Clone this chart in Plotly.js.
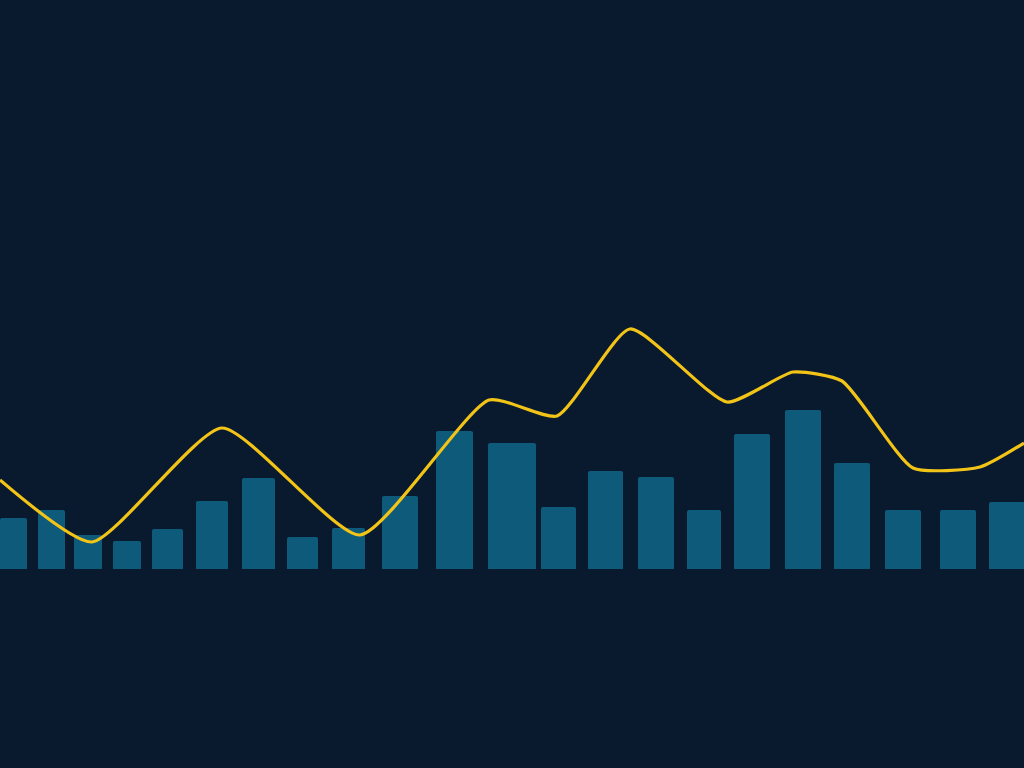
<!DOCTYPE html>
<html>
<head>
<meta charset="utf-8">
<script src="https://cdn.plot.ly/plotly-3.0.1.min.js"></script>
<style>
html,body{margin:0;padding:0;background:#0a1a2e;}
#chart{width:1024px;height:768px;}
</style>
</head>
<body>
<div id="chart"></div>
<script>
// Bar series (period positions and values)
const barX = [1.35, 5.15, 8.8, 12.7, 16.75, 21.2, 25.85, 30.25, 34.85, 40.0, 45.45, 51.2, 55.85, 60.55, 65.6, 70.4, 75.2, 80.3, 85.2, 90.3, 95.8, 100.7];
const barValues = [5.1, 5.9, 3.4, 2.8, 4.0, 6.8, 9.1, 3.2, 4.1, 7.3, 13.8, 12.6, 6.2, 9.8, 9.2, 5.9, 13.5, 15.9, 10.6, 5.9, 5.9, 6.7];
// Line series
const lineX = [0, 9.2, 22.2, 36.0, 48.9, 55.7, 63.0, 72.7, 79.3, 84.2, 91.3, 98.0, 102.4];
const lineValues = [8.9, 2.7, 14.1, 3.4, 16.9, 15.3, 24.0, 16.7, 19.7, 18.8, 10.1, 10.2, 12.6];

const barWidths = [2.7, 2.7, 2.8, 2.8, 3.1, 3.2, 3.3, 3.1, 3.3, 3.6, 3.7, 4.8, 3.5, 3.5, 3.6, 3.4, 3.6, 3.6, 3.6, 3.6, 3.6, 3.6];

const traces = [
  {
    type: 'bar',
    x: barX,
    y: barValues,
    width: barWidths,
    marker: {color: '#0e5a7b', line: {width: 0}, cornerradius: 2},
    hoverinfo: 'none'
  },
  {
    type: 'scatter',
    mode: 'lines',
    x: lineX,
    y: lineValues,
    line: {color: '#f2c418', width: 3.2, shape: 'spline', smoothing: 0.55},
    hoverinfo: 'none'
  }
];

const layout = {
  width: 1024,
  height: 768,
  margin: {l: 0, r: 0, t: 0, b: 0},
  paper_bgcolor: '#0a1a2e',
  plot_bgcolor: '#0a1a2e',
  showlegend: false,
  xaxis: {range: [0, 102.4], visible: false, fixedrange: true},
  yaxis: {range: [-19.9, 56.9], visible: false, fixedrange: true}
};

Plotly.newPlot('chart', traces, layout, {displayModeBar: false, staticPlot: true});
</script>
</body>
</html>
